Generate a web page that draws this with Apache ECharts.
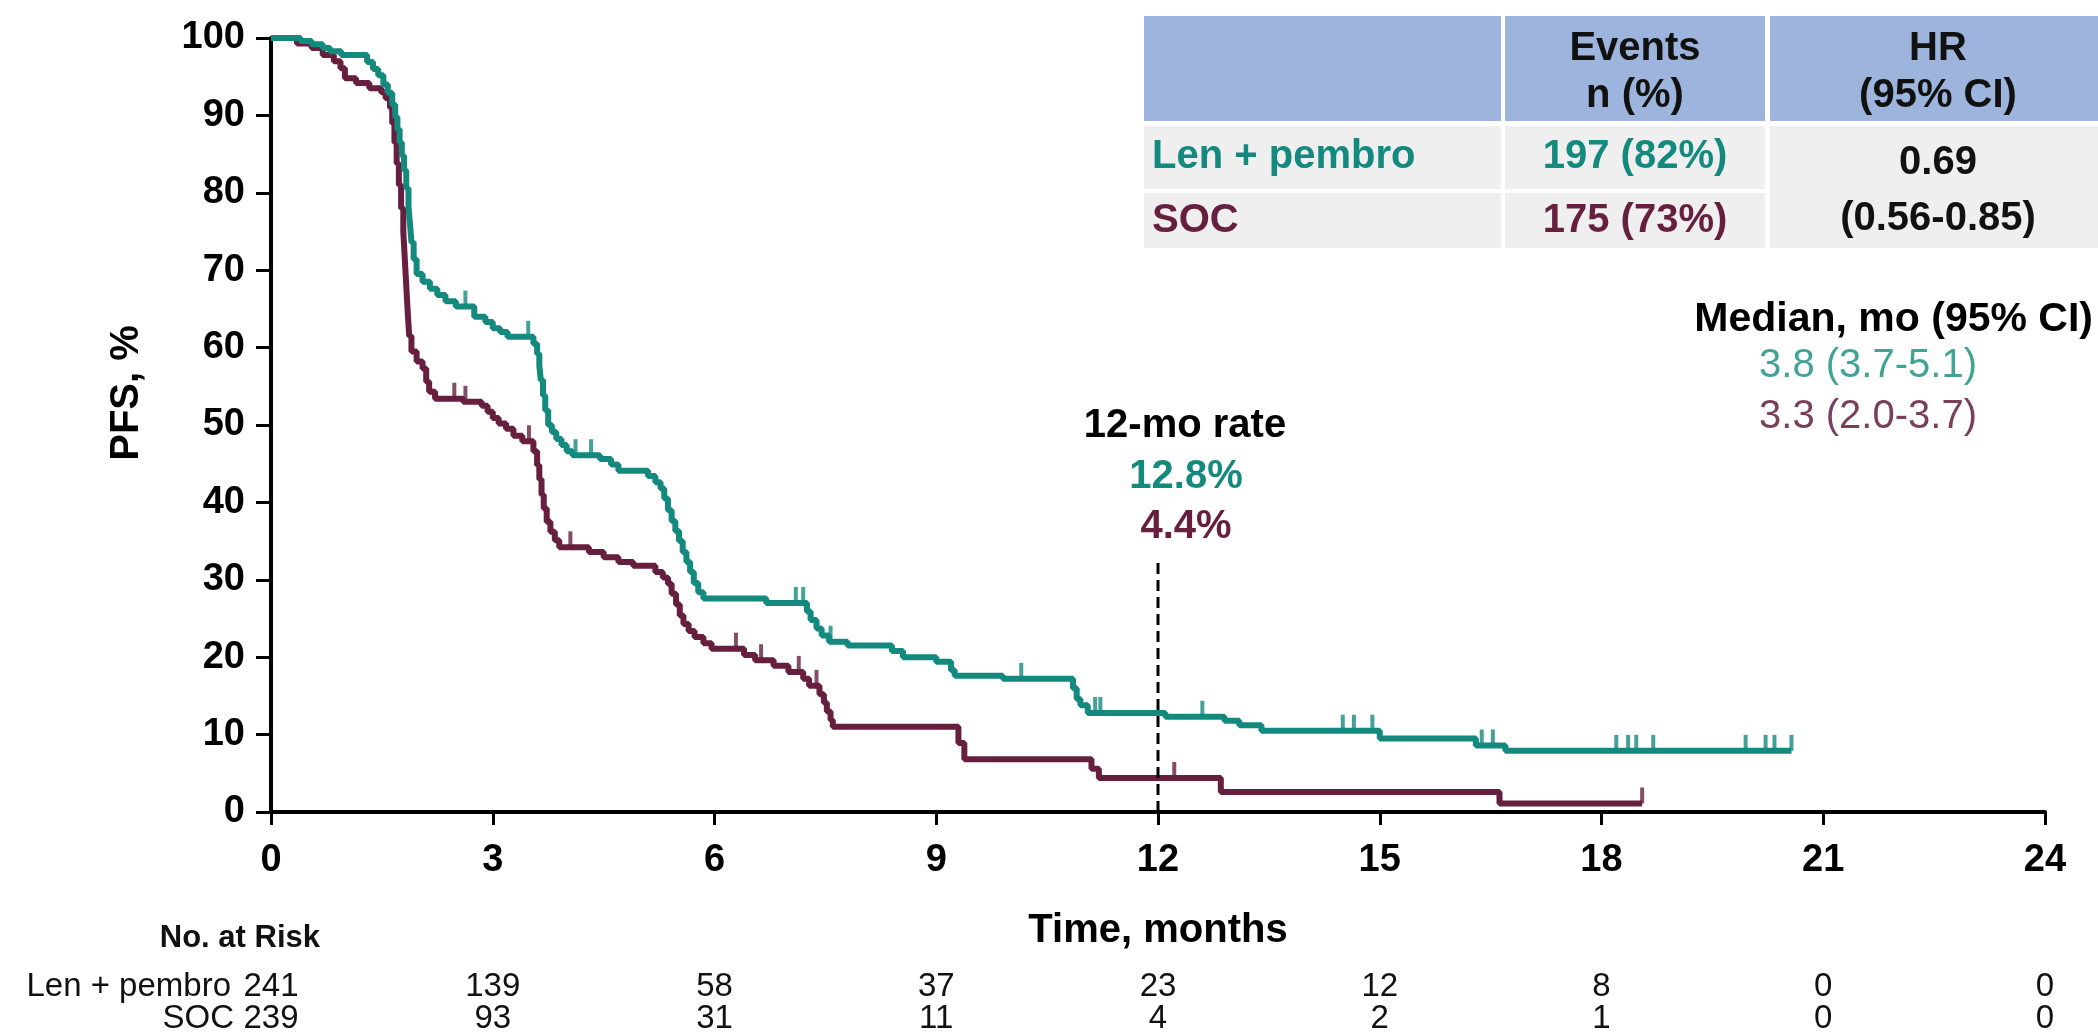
<!DOCTYPE html>
<html>
<head>
<meta charset="utf-8">
<title>PFS Kaplan-Meier</title>
<script src="https://cdn.jsdelivr.net/npm/echarts@6/dist/echarts.min.js"></script>
<style>
  html, body { margin: 0; padding: 0; background: #ffffff; }
  #chart { width: 2098px; height: 1036px; }
</style>
</head>
<body>
<div id="chart"></div>
<script>
// ---- data ----
const timeTicks = [0, 3, 6, 9, 12, 15, 18, 21, 24];

// Kaplan-Meier steps: [month, PFS %] after each drop
const lenPembroSteps = [
  [0, 100], [0.4, 99.6], [0.55, 99.2], [0.7, 98.7], [0.8, 98.3], [0.95, 97.8],
  [1.3, 96.9], [1.38, 96.0], [1.45, 95.2], [1.52, 94.0], [1.58, 92.9], [1.64, 91.4],
  [1.68, 89.8], [1.71, 88.2], [1.74, 86.5], [1.77, 84.8], [1.8, 82.9], [1.83, 80.6],
  [1.86, 78.2], [1.88, 76.0], [1.9, 73.6], [1.93, 71.4], [1.97, 69.5], [2.05, 68.5],
  [2.15, 67.6], [2.25, 66.8], [2.36, 66.0], [2.5, 65.3], [2.75, 64.0], [2.9, 63.3],
  [3.0, 62.5], [3.1, 62.0], [3.2, 61.4], [3.55, 60.5], [3.6, 59.2], [3.63, 57.7],
  [3.65, 55.8], [3.68, 53.8], [3.71, 51.9], [3.75, 50.0], [3.8, 49.1], [3.86, 48.2],
  [3.93, 47.4], [4.0, 46.6], [4.08, 46.1], [4.45, 45.6], [4.6, 44.9], [4.7, 44.1],
  [5.1, 43.4], [5.2, 42.6], [5.27, 41.8], [5.32, 40.5], [5.37, 39.0], [5.42, 37.6],
  [5.47, 36.3], [5.52, 35.0], [5.57, 33.6], [5.62, 32.3], [5.67, 31.0], [5.72, 29.6],
  [5.78, 28.4], [5.85, 27.6], [6.7, 27.0], [7.25, 25.9], [7.3, 24.8], [7.38, 23.7],
  [7.45, 22.8], [7.55, 22.0], [7.8, 21.5], [8.4, 20.8], [8.55, 20.0], [9.0, 19.4],
  [9.2, 18.3], [9.25, 17.6], [9.9, 17.2], [10.85, 16.0], [10.9, 14.6], [10.95, 13.8],
  [11.05, 12.8], [12.1, 12.3], [12.9, 11.8], [13.1, 11.2], [13.4, 10.5], [15.0, 9.5],
  [16.3, 8.6], [16.7, 7.9], [20.57, 7.9]
];

const socSteps = [
  [0, 100], [0.35, 99.3], [0.55, 98.7], [0.7, 97.8], [0.85, 97.0], [0.94, 96.1],
  [1.0, 94.8], [1.15, 94.2], [1.33, 93.5], [1.49, 93.0], [1.55, 92.2], [1.61, 91.0],
  [1.64, 89.0], [1.67, 86.5], [1.7, 83.8], [1.73, 81.0], [1.76, 78.0], [1.79, 75.0],
  [1.81, 71.5], [1.83, 68.0], [1.85, 64.5], [1.87, 61.5], [1.9, 59.5], [1.97, 58.2],
  [2.05, 57.3], [2.1, 55.6], [2.14, 54.3], [2.22, 53.4], [2.6, 53.0], [2.85, 52.5],
  [2.93, 51.7], [3.0, 50.9], [3.08, 50.2], [3.18, 49.5], [3.28, 48.6], [3.4, 47.9],
  [3.55, 46.6], [3.6, 44.8], [3.63, 43.0], [3.66, 41.0], [3.69, 39.2], [3.73, 37.5],
  [3.78, 36.2], [3.84, 35.1], [3.9, 34.2], [4.3, 33.6], [4.5, 32.9], [4.7, 32.3],
  [4.9, 31.8], [5.2, 31.0], [5.3, 30.3], [5.37, 29.5], [5.42, 28.2], [5.48, 26.8],
  [5.53, 25.4], [5.58, 24.3], [5.65, 23.4], [5.73, 22.6], [5.85, 21.8], [5.96, 21.1],
  [6.4, 20.3], [6.55, 19.6], [6.8, 18.9], [7.0, 18.1], [7.2, 17.2], [7.28, 16.3],
  [7.42, 15.2], [7.48, 14.1], [7.52, 13.0], [7.57, 11.9], [7.6, 11.0], [9.3, 8.9],
  [9.38, 6.8], [11.1, 5.6], [11.2, 4.4], [12.85, 2.6], [16.62, 1.1], [18.55, 1.1]
];

// censored observations (months)
const lenPembroCensor = [2.63, 3.48, 4.12, 4.33, 7.1, 7.2, 7.57, 10.15, 11.15, 11.22, 12.6,
  14.5, 14.65, 14.9, 16.38, 16.53, 18.2, 18.36, 18.47, 18.7, 19.95, 20.22, 20.34, 20.57];
const socCensor = [2.48, 2.63, 3.49, 4.05, 6.29, 6.63, 7.14, 7.38, 12.22, 18.55];

const atRiskLenPembro = [241, 139, 58, 37, 23, 12, 8, 0, 0];
const atRiskSoc = [239, 93, 31, 11, 4, 2, 1, 0, 0];

const landmarkMonth = 12;
const landmarkTop = 32.7;
const rate12LenPembro = 12.8;
const rate12Soc = 4.4;

const eventsLenPembro = '197 (82%)';
const eventsSoc = '175 (73%)';
const hazardRatio = '0.69';
const hazardCI = '(0.56-0.85)';
const medianLenPembro = '3.8 (3.7-5.1)';
const medianSoc = '3.3 (2.0-3.7)';

// ---- styling ----
const TEAL = '#148a7f';
const MAROON = '#661f3e';
const TEAL_LIGHT = '#3fa396';
const MAROON_LIGHT = '#7a3f59';
const FONT = '"Liberation Sans", Arial, sans-serif';
const bold = (s) => 'bold ' + s + 'px ' + FONT;
const normal = (s) => s + 'px ' + FONT;

function survivalAt(steps, t) {
  let s = steps[0][1];
  for (const [x, y] of steps) { if (x <= t) s = y; else break; }
  return s;
}

const chart = echarts.init(document.getElementById('chart'), null, { renderer: 'canvas' });

const censorSeries = (times, steps, color) => ({
  type: 'scatter',
  data: times.map(t => [t, survivalAt(steps, t)]),
  symbol: 'rect',
  symbolSize: [4, 16],
  symbolOffset: [0, -8],
  itemStyle: { color: color },
  silent: true,
  z: 4
});

chart.setOption({
  animation: false,
  grid: { left: 271, right: 53, top: 38, bottom: 224 },
  xAxis: {
    type: 'value', min: 0, max: 24, interval: 3,
    axisLine: { lineStyle: { color: '#000', width: 4 } },
    axisTick: { length: 13, lineStyle: { color: '#000', width: 3 } },
    axisLabel: { color: '#000', fontSize: 38, fontWeight: 'bold', fontFamily: FONT, margin: 30 },
    splitLine: { show: false }
  },
  yAxis: {
    type: 'value', min: 0, max: 100, interval: 10,
    axisLine: { show: true, lineStyle: { color: '#000', width: 4 } },
    axisTick: { show: true, length: 15, lineStyle: { color: '#000', width: 3 } },
    axisLabel: { color: '#000', fontSize: 38, fontWeight: 'bold', fontFamily: FONT, margin: 26 },
    splitLine: { show: false }
  },
  series: [
    {
      name: 'SOC', type: 'line', step: 'end', data: socSteps, showSymbol: false,
      lineStyle: { color: MAROON, width: 6 }, z: 3, silent: true
    },
    {
      name: 'Len + pembro', type: 'line', step: 'end', data: lenPembroSteps, showSymbol: false,
      lineStyle: { color: TEAL, width: 6 }, z: 3, silent: true
    },
    censorSeries(socCensor, socSteps, MAROON),
    censorSeries(lenPembroCensor, lenPembroSteps, TEAL),
    {
      name: '12-mo', type: 'line', data: [[landmarkMonth, 0], [landmarkMonth, landmarkTop]],
      showSymbol: false, silent: true, z: 5,
      lineStyle: { color: '#000', width: 3, type: [11, 6] }
    }
  ]
});

// ---- annotations ----
const px = (t) => chart.convertToPixel({ xAxisIndex: 0 }, t);
const txt = (text, x, y, font, fill, align, extra) => Object.assign({
  type: 'text', x: x, y: y, silent: true,
  style: { text: text, font: font, fill: fill, align: align || 'center', verticalAlign: 'middle' }
}, extra || {});

const graphics = [];

// axis titles
graphics.push(txt('PFS, %', 127, 393, bold(40), '#000', 'center', { rotation: Math.PI / 2 }));
graphics.push(txt('Time, months', 1158, 931, bold(40), '#000'));

// 12-month landmark
graphics.push(txt('12-mo rate', 1185, 426, bold(40), '#000'));
graphics.push(txt(rate12LenPembro.toFixed(1) + '%', 1186, 477, bold(40), TEAL));
graphics.push(txt(rate12Soc.toFixed(1) + '%', 1186, 527, bold(40), MAROON));

// median PFS
graphics.push(txt('Median, mo (95% CI)', 2093, 320, bold(41), '#000', 'right'));
graphics.push(txt(medianLenPembro, 1868, 366, normal(40), TEAL_LIGHT));
graphics.push(txt(medianSoc, 1868, 417, normal(40), MAROON_LIGHT));

// events / HR table
const HEAD = '#9db5dc', CELL = '#efefef';
const rect = (x, y, w, h, fill) => ({ type: 'rect', silent: true, shape: { x: x, y: y, width: w, height: h }, style: { fill: fill } });
graphics.push(rect(1144, 16, 357, 105, HEAD));
graphics.push(rect(1505, 16, 260, 105, HEAD));
graphics.push(rect(1770, 16, 328, 105, HEAD));
graphics.push(rect(1144, 126, 357, 63, CELL));
graphics.push(rect(1505, 126, 260, 63, CELL));
graphics.push(rect(1144, 193, 357, 55, CELL));
graphics.push(rect(1505, 193, 260, 55, CELL));
graphics.push(rect(1770, 126, 328, 122, CELL));

graphics.push(txt('Events', 1635, 49, bold(40), '#111'));
graphics.push(txt('n (%)', 1635, 96, bold(40), '#111'));
graphics.push(txt('HR', 1938, 49, bold(40), '#111'));
graphics.push(txt('(95% CI)', 1938, 96, bold(40), '#111'));
graphics.push(txt('Len + pembro', 1152, 157, bold(40), TEAL, 'left'));
graphics.push(txt('SOC', 1152, 221, bold(40), MAROON, 'left'));
graphics.push(txt(eventsLenPembro, 1635, 157, bold(40), TEAL));
graphics.push(txt(eventsSoc, 1635, 221, bold(40), MAROON));
graphics.push(txt(hazardRatio, 1938, 163, bold(40), '#111'));
graphics.push(txt(hazardCI, 1938, 219, bold(40), '#111'));

// number at risk
graphics.push(txt('No. at Risk', 320, 938, bold(31), '#111', 'right'));
graphics.push(txt('Len + pembro', 231, 987, normal(33), '#111', 'right'));
graphics.push(txt('SOC', 234, 1019, normal(33), '#111', 'right'));
timeTicks.forEach((t, i) => {
  const x = px(t);
  graphics.push(txt(String(atRiskLenPembro[i]), x, 987, normal(33), '#111'));
  graphics.push(txt(String(atRiskSoc[i]), x, 1019, normal(33), '#111'));
});

chart.setOption({ graphic: graphics });
</script>
</body>
</html>
